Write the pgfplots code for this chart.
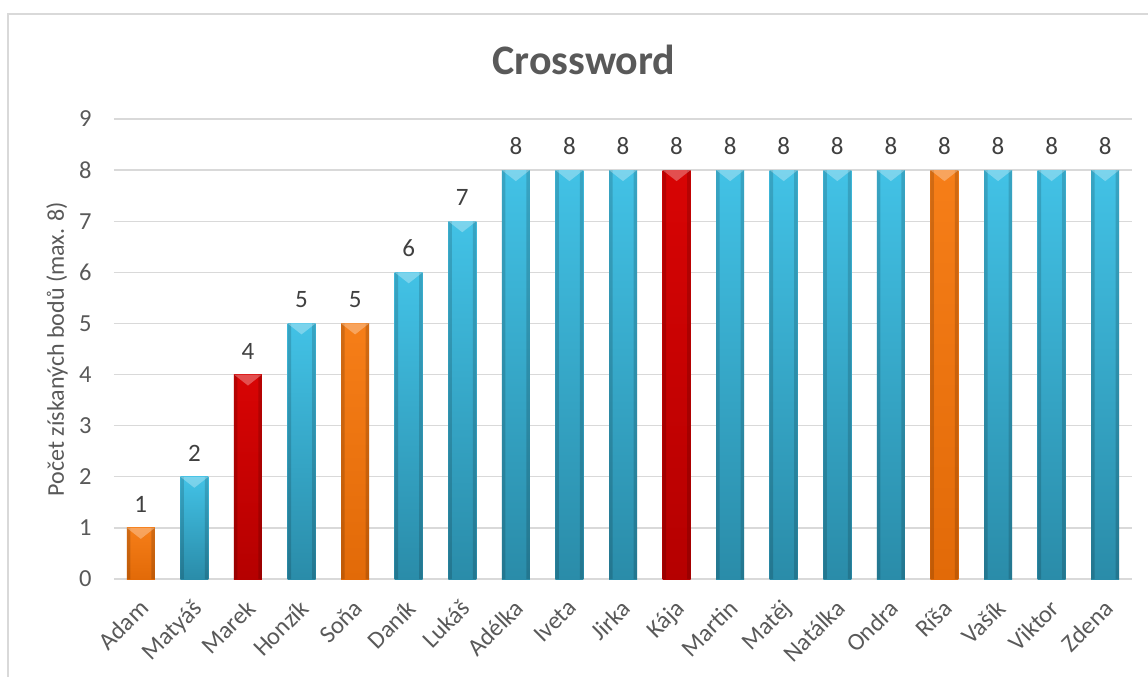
\documentclass[border=0pt]{standalone}
\usepackage{pgfplots}
\pgfplotsset{compat=1.18}
\usepackage{fontspec}
\setmainfont{Carlito}

\definecolor{txt}{HTML}{595959}
\definecolor{lbl}{HTML}{404040}
\definecolor{gridc}{HTML}{D9D9D9}
\definecolor{blueT}{HTML}{42C2E6}
\definecolor{blueB}{HTML}{2A8CA9}
\definecolor{orT}{HTML}{F67E18}
\definecolor{orB}{HTML}{E26A08}
\definecolor{redT}{HTML}{D80404}
\definecolor{redB}{HTML}{B50000}

% light top facet of a bevelled bar, placed at the top of each bar
\pgfdeclareplotmark{bevtop}{%
  \pgfpathmoveto{\pgfpoint{-14bp}{0bp}}%
  \pgfpathlineto{\pgfpoint{14bp}{0bp}}%
  \pgfpathlineto{\pgfpoint{0bp}{-11bp}}%
  \pgfpathclose
  \pgfusepathqfill}

\pgfplotsset{
  barbase/.style={ybar, bar width=28bp, bar shift=0pt, draw=none},
  bB/.style={barbase, top color=blueT, bottom color=blueB},
  bO/.style={barbase, top color=orT, bottom color=orB},
  bR/.style={barbase, top color=redT, bottom color=redB},
  edge/.style={ybar, bar width=3.5bp, bar shift=#1, draw=none, fill=black, fill opacity=0.15},
}

\pgfplotstableread{
x y
0 1
1 2
2 4
3 5
4 5
5 6
6 7
7 8
8 8
9 8
10 8
11 8
12 8
13 8
14 8
15 8
16 8
17 8
18 8
}\scores

\begin{document}
\begin{tikzpicture}
\useasboundingbox (-114bp,-98bp) rectangle (1034bp,579bp);
% chart frame
\draw[gridc, line width=1.5bp] (-106bp,-120bp) -- (-106bp,565bp) -- (1060bp,565bp);

\begin{axis}[
  scale only axis,
  width=1018bp, height=460bp,
  ymin=0, ymax=9,
  xmin=-0.5, xmax=18.5,
  ytick={0,1,...,9},
  xtick={0,1,...,18},
  xticklabels={Adam,Matyáš,Marek,Honzík,Soňa,Daník,Lukáš,Adélka,Iveta,Jirka,Kája,Martin,Matěj,Natálka,Ondra,Ríša,Vašík,Viktor,Zdena},
  ymajorgrids,
  grid style={gridc, line width=1.4bp},
  axis line style={draw=none},
  tick style={draw=none},
  /pgf/number format/assume math mode=true,
  ticklabel style={font=\fontsize{24.5bp}{28bp}\selectfont, text=txt},
  yticklabel style={xshift=-19bp},
  xticklabel style={rotate=45, anchor=north east, xshift=-12bp, yshift=-8bp},
  ylabel={Počet získaných bodů (max. 8)},
  ylabel style={font=\fontsize{24bp}{28bp}\selectfont, text=txt, at={(axis description cs:-0.056,0.5)}, anchor=center},
  clip=false,
]
\addplot[bO] coordinates {(0,1)};
\addplot[bB] coordinates {(1,2)};
\addplot[bR] coordinates {(2,4)};
\addplot[bB] coordinates {(3,5)};
\addplot[bO] coordinates {(4,5)};
\addplot[bB] coordinates {(5,6)};
\addplot[bB] coordinates {(6,7)};
\addplot[bB] coordinates {(7,8)};
\addplot[bB] coordinates {(8,8)};
\addplot[bB] coordinates {(9,8)};
\addplot[bR] coordinates {(10,8)};
\addplot[bB] coordinates {(11,8)};
\addplot[bB] coordinates {(12,8)};
\addplot[bB] coordinates {(13,8)};
\addplot[bB] coordinates {(14,8)};
\addplot[bO] coordinates {(15,8)};
\addplot[bB] coordinates {(16,8)};
\addplot[bB] coordinates {(17,8)};
\addplot[bB] coordinates {(18,8)};
% darker side edges of every bar
\addplot[edge=-12.25bp] table {\scores};
\addplot[edge=12.25bp] table {\scores};
% top facets and value labels
\addplot[only marks, mark=bevtop, mark options={fill=white, fill opacity=0.30, draw=none},
  nodes near coords,
  every node near coord/.append style={font=\fontsize{25bp}{28bp}\selectfont, text=lbl,
    fill opacity=1, text opacity=1, opacity=1, yshift=12bp}]
  table {\scores};
\end{axis}

\node[font=\fontsize{42bp}{48bp}\selectfont\bfseries, text=txt, anchor=base] at (470bp,504bp) {Crossword};
\end{tikzpicture}
\end{document}
